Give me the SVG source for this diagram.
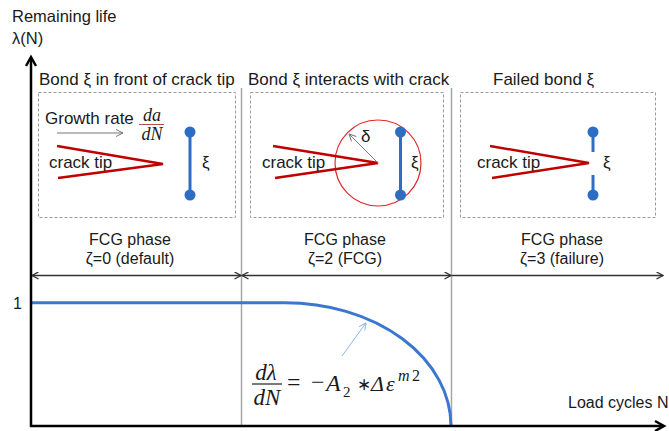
<svg xmlns="http://www.w3.org/2000/svg" width="669" height="431" viewBox="0 0 669 431">
<style>
text{font-family:"Liberation Sans",Arial,sans-serif;fill:#1a1a1a}
.t17{font-size:17px}
.t16{font-size:16px}
.m{font-family:"Liberation Serif","Times New Roman",serif;font-style:italic}
.s{font-family:"Liberation Serif","Times New Roman",serif}
.box{fill:none;stroke:#9a9a9a;stroke-width:1;stroke-dasharray:3 2}
.crack{fill:none;stroke:#c00000;stroke-width:2.5}
.bond{stroke:#2e6dc4;stroke-width:3}
.dot{fill:#2e6dc4}
.div{stroke:#a8a8a8;stroke-width:1.5}
.phase{stroke:#333;stroke-width:1.3;fill:none}
</style>
<defs>
<marker id="chev" viewBox="0 0 8 8" refX="7.5" refY="4" markerWidth="8" markerHeight="8" markerUnits="userSpaceOnUse" orient="auto-start-reverse">
<path d="M1,0.5 L7.5,4 L1,7.5" fill="none" stroke="#333" stroke-width="1.4"/>
</marker>
<marker id="thin" viewBox="0 0 8 8" refX="7.5" refY="4" markerWidth="8" markerHeight="8" markerUnits="userSpaceOnUse" orient="auto">
<path d="M0.5,0.5 L7.5,4 L0.5,7.5" fill="none" stroke="#777" stroke-width="1"/>
</marker>
<marker id="thinblue" viewBox="0 0 8 8" refX="7.5" refY="4" markerWidth="8" markerHeight="8" markerUnits="userSpaceOnUse" orient="auto">
<path d="M0.5,0.5 L7.5,4 L0.5,7.5" fill="none" stroke="#8fb4e6" stroke-width="1"/>
</marker>
</defs>

<g id="axis-labels">
<text x="12" y="22" style="font-size:16.5px">Remaining life</text>
<text x="12" y="44" style="font-size:16.5px">λ(N)</text>
<text class="t16" x="568" y="408">Load cycles N</text>
<text class="t16" x="13" y="309">1</text>
</g>

<g id="dividers">
<line class="div" x1="241.5" y1="88" x2="241.5" y2="426"/>
<line class="div" x1="451.5" y1="88" x2="451.5" y2="426"/>
</g>

<g id="panel1">
<text class="t17" x="39" y="85">Bond ξ in front of crack tip</text>
<rect class="box" x="38.5" y="92.5" width="197" height="125"/>
<text class="t17" x="45" y="124">Growth rate</text>
<text class="m" x="152" y="121" text-anchor="middle" style="font-size:18px">da</text>
<line x1="139" y1="124.5" x2="164" y2="124.5" stroke="#b05050" stroke-width="1"/>
<text class="m" x="152" y="140" text-anchor="middle" style="font-size:18px">dN</text>
<polyline class="crack" points="57,146 163,164 58,178"/>
<text class="t17" x="49" y="168">crack tip</text>
<line class="bond" x1="190" y1="132" x2="190" y2="195"/>
<circle class="dot" cx="190" cy="132" r="5.5"/>
<circle class="dot" cx="190" cy="195" r="5.5"/>
<text class="t17" x="202" y="168">ξ</text>
<text class="t16" x="130" y="245" text-anchor="middle">FCG phase</text>
<text class="t16" x="130" y="264" text-anchor="middle">ζ=0 (default)</text>
</g>

<g id="panel2">
<text class="t17" x="248" y="85">Bond ξ interacts with crack</text>
<rect class="box" x="250.5" y="92.5" width="193" height="125"/>
<circle cx="378" cy="163" r="43" fill="none" stroke="#e02828" stroke-width="1.2"/>
<polyline class="crack" points="273,146 378,163 275,178"/>
<text class="t17" x="262" y="168">crack tip</text>
<text class="t17" x="361" y="142">δ</text>
<line class="bond" x1="400.5" y1="132" x2="400.5" y2="195"/>
<circle class="dot" cx="400.5" cy="132" r="5.5"/>
<circle class="dot" cx="400.5" cy="195" r="5.5"/>
<text class="t17" x="411" y="168">ξ</text>
<text class="t16" x="345" y="245" text-anchor="middle">FCG phase</text>
<text class="t16" x="345" y="264" text-anchor="middle">ζ=2 (FCG)</text>
</g>

<g id="panel3">
<text class="t17" x="493" y="85">Failed bond ξ</text>
<rect class="box" x="460.5" y="92.5" width="195" height="125"/>
<polyline class="crack" points="490,146 589,163 492,178"/>
<text class="t17" x="477" y="168">crack tip</text>
<line class="bond" x1="593" y1="132" x2="593" y2="152"/>
<line class="bond" x1="593" y1="175" x2="593" y2="195"/>
<circle class="dot" cx="593" cy="132" r="5.5"/>
<circle class="dot" cx="593" cy="195" r="5.5"/>
<text class="t17" x="603" y="168">ξ</text>
<text class="t16" x="562" y="245" text-anchor="middle">FCG phase</text>
<text class="t16" x="562" y="264" text-anchor="middle">ζ=3 (failure)</text>
</g>

<g id="curve">
<path d="M31,302.7 L285,302.7 A166,123.3 0 0 1 451,426" fill="none" stroke="#3a77cf" stroke-width="3"/>
</g>

<g id="equation">
<text class="m" x="266" y="380" text-anchor="middle" style="font-size:23px">dλ</text>
<line x1="252" y1="384" x2="282" y2="384" stroke="#222" stroke-width="1.2"/>
<text class="m" x="267" y="405" text-anchor="middle" style="font-size:23px">dN</text>
<text class="s" x="287" y="390" style="font-size:24px">=</text>
<text class="s" x="311" y="390" style="font-size:24px">−</text>
<text class="m" x="326" y="391" style="font-size:24px">A</text>
<text class="s" x="343" y="397" style="font-size:15px">2</text>
<text class="s" x="357" y="390" style="font-size:17px">∗</text>
<text class="m" x="371" y="391" style="font-size:22px">Δ</text>
<text class="m" x="386" y="391" style="font-size:22px">ε</text>
<text class="m" x="398" y="381" style="font-size:16px">m</text>
<text class="s" x="412" y="381" style="font-size:16px">2</text>
</g>

<g id="connectors">
<line x1="31" y1="427" x2="31" y2="58" stroke="#000" stroke-width="2.5"/>
<polyline points="26,66 31,57 36,66" fill="none" stroke="#000" stroke-width="2.5"/>
<line x1="30" y1="426" x2="663" y2="426" stroke="#000" stroke-width="2.5"/>
<polyline points="655,421 664,426 655,431" fill="none" stroke="#000" stroke-width="2.5"/>
<line class="phase" x1="32" y1="275.5" x2="241" y2="275.5" marker-start="url(#chev)" marker-end="url(#chev)"/>
<line class="phase" x1="242" y1="275.5" x2="451" y2="275.5" marker-start="url(#chev)" marker-end="url(#chev)"/>
<line class="phase" x1="452" y1="275.5" x2="663" y2="275.5" marker-end="url(#chev)"/>
<line x1="57" y1="133" x2="123" y2="133" stroke="#777" stroke-width="1" marker-end="url(#thin)"/>
<line x1="378" y1="163" x2="349" y2="134" stroke="#777" stroke-width="1" marker-end="url(#thin)"/>
<line x1="342" y1="356" x2="366" y2="323" stroke="#8fb4e6" stroke-width="1" marker-end="url(#thinblue)"/>
</g>
</svg>
